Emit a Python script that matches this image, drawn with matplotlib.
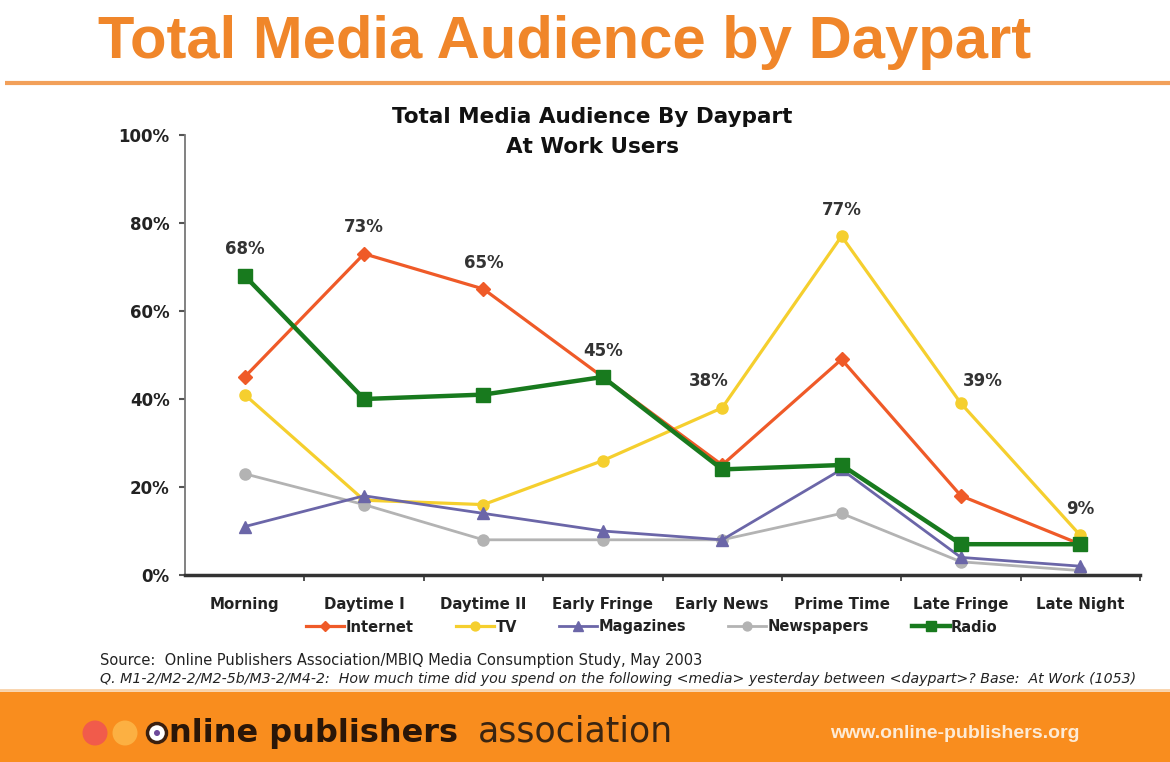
import numpy as np
import matplotlib
matplotlib.use("Agg")
import matplotlib.pyplot as plt
from matplotlib.patches import Rectangle, Circle
from matplotlib.lines import Line2D

# Data
dayparts = ["Morning", "Daytime I", "Daytime II", "Early Fringe",
            "Early News", "Prime Time", "Late Fringe", "Late Night"]
internet = [45, 73, 65, 45, 25, 49, 18, 7]
tv = [41, 17, 16, 26, 38, 77, 39, 9]
magazines = [11, 18, 14, 10, 8, 24, 4, 2]
newspapers = [23, 16, 8, 8, 8, 14, 3, 1]
radio = [68, 40, 41, 45, 24, 25, 7, 7]
y_ticks = [0, 20, 40, 60, 80, 100]

# which series carries the value label at each daypart
label_series = ["Radio", "Internet", "Internet", "Radio", "TV", "TV", "TV", "TV"]

ORANGE = "#F0862A"
BOLD = "DejaVu Sans"

fig = plt.figure(figsize=(11.7, 7.62), dpi=100)

# background layer in pixel coordinates for the slide decoration
bg = fig.add_axes([0, 0, 1, 1])
bg.set_xlim(0, 1170)
bg.set_ylim(762, 0)
bg.axis("off")
bg.set_zorder(0)

bg.text(565, 58, "Total Media Audience by Daypart", ha="center", va="baseline",
        fontsize=43, fontweight="bold", family="Liberation Sans", color=ORANGE)
bg.plot([5, 1170], [83, 83], color="#F2A05A", lw=3, solid_capstyle="butt")

bg.text(592, 117, "Total Media Audience By Daypart", ha="center", va="center",
        fontsize=15.5, fontweight="bold", family=BOLD, color="#111111")
bg.text(592, 147, "At Work Users", ha="center", va="center",
        fontsize=15.5, fontweight="bold", family=BOLD, color="#111111")

bg.text(100, 660, "Source:  Online Publishers Association/MBIQ Media Consumption Study, May 2003",
        ha="left", va="center", fontsize=10.5, family="DejaVu Sans", color="#222222")
bg.text(100, 679, "Q. M1-2/M2-2/M2-5b/M3-2/M4-2:  How much time did you spend on the following "
        "<media> yesterday between <daypart>? Base:  At Work (1053)",
        ha="left", va="center", fontsize=10.2, family="DejaVu Sans", style="italic",
        color="#222222")

# orange footer band with logo
bg.plot([0, 1170], [690, 690], color="#F9D2A8", lw=2)
bg.add_patch(Rectangle((0, 692), 1170, 70, color="#F98D1E", lw=0))
bg.add_patch(Circle((95, 733), 12.5, color="#F15B4B", lw=0))
bg.add_patch(Circle((125, 733), 12.5, color="#FCB042", lw=0))
bg.add_patch(Circle((157, 733), 9.5, fc="white", ec="#3A1F0F", lw=2.5))
bg.add_patch(Circle((157, 733), 3, color="#6E4A9A", lw=0))
bg.text(169, 742, "nline publishers", ha="left", va="baseline", fontsize=23,
        fontweight="bold", family=BOLD, color="#2A1608")
bg.text(478, 742, "association", ha="left", va="baseline", fontsize=25,
        family="DejaVu Sans", color="#3A2512")
bg.text(830, 734, "www.online-publishers.org", ha="left", va="center", fontsize=14,
        fontweight="bold", family="Liberation Sans", color="#FDEBD6")

# main chart
ax = fig.add_axes([185 / 1170, 1 - 575 / 762, 955 / 1170, 440 / 762])
ax.set_zorder(1)
ax.patch.set_alpha(0)

x = np.arange(len(dayparts)) + 0.5
series = [
    ("TV", tv, "#F5CF2E", "o", 8, 2.3),
    ("Newspapers", newspapers, "#B3B3B3", "o", 8, 2.0),
    ("Magazines", magazines, "#6B66A8", "^", 9, 2.0),
    ("Internet", internet, "#EF5A28", "D", 7, 2.3),
    ("Radio", radio, "#187A1E", "s", 9.5, 3.2),
]
lookup = {}
for name, vals, col, mk, ms, lw in series:
    ax.plot(x, vals, color=col, lw=lw, marker=mk, markersize=ms,
            markerfacecolor=col, markeredgecolor=col, label=name)
    lookup[name] = vals

offsets = [(0, 19), (0, 19), (0, 19), (0, 19), (-10, 19), (0, 19), (16, 16), (0, 19)]
for i, name in enumerate(label_series):
    v = lookup[name][i]
    ax.annotate(f"{v}%", (x[i], v), xytext=offsets[i], textcoords="offset points",
                ha="center", va="center", fontsize=12, fontweight="bold",
                family=BOLD, color="#333333")

ax.set_xlim(0, len(dayparts))
ax.set_ylim(0, 100)
ax.set_xticks(x)
ax.set_xticklabels(dayparts)
ax.set_xticks(np.arange(1, len(dayparts) + 1), minor=True)
ax.tick_params(axis="x", which="major", length=0, pad=16)
ax.tick_params(axis="x", which="minor", length=4, width=1.2, color="#333333", direction="out")
ax.set_yticks(y_ticks)
ax.set_yticklabels([f"{v}%" for v in y_ticks])
ax.tick_params(axis="y", length=4, width=1.5, color="#555555", pad=7)
for lab in ax.get_xticklabels():
    lab.set_fontsize(10.8)
    lab.set_fontweight("bold")
    lab.set_family(BOLD)
    lab.set_color("#222222")
for lab in ax.get_yticklabels():
    lab.set_fontsize(12)
    lab.set_fontweight("bold")
    lab.set_family(BOLD)
    lab.set_color("#222222")

for side in ["top", "right"]:
    ax.spines[side].set_visible(False)
ax.spines["left"].set_color("#777777")
ax.spines["left"].set_linewidth(1.3)
ax.spines["bottom"].set_color("#333333")
ax.spines["bottom"].set_linewidth(2.5)

# legend in the reference order
order = ["Internet", "TV", "Magazines", "Newspapers", "Radio"]
handles = []
for name in order:
    for n, vals, col, mk, ms, lw in series:
        if n == name:
            handles.append(Line2D([], [], color=col, lw=lw, marker=mk, markersize=ms * 0.8,
                                  markerfacecolor=col, markeredgecolor=col))
leg = fig.legend(handles, order, loc="center", bbox_to_anchor=(652 / 1170, 1 - 627 / 762),
                 ncol=5, frameon=False, handlelength=2.6, handletextpad=0.1,
                 columnspacing=2.9, prop={"family": BOLD, "weight": "bold", "size": 10.5})
for t in leg.get_texts():
    t.set_color("#222222")

fig.savefig("out.png", dpi=100)
